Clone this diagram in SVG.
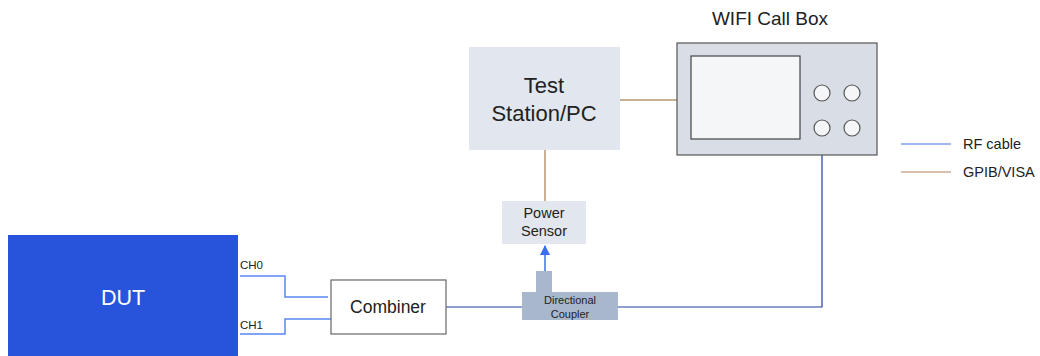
<svg xmlns="http://www.w3.org/2000/svg" width="1040" height="356" viewBox="0 0 1040 356">
<defs>
<style>
text{font-family:"Liberation Sans",Arial,sans-serif;fill:#222}
.rf{stroke:#1f3fa0;stroke-width:1.2;fill:none}
.ch{stroke:#5b85f0;stroke-width:1.5;fill:none}
.gp{stroke:#b99474;stroke-width:1.5;fill:none}
.lb{fill:#e1e6ef}
</style>
<marker id="ah" viewBox="0 0 10 10" refX="9" refY="5" markerWidth="7" markerHeight="7" orient="auto"><path d="M0,0 L10,5 L0,10 z" fill="#3a6ff0"/></marker>
</defs>
<rect width="1040" height="356" fill="#fff"/>
<g id="connectors">
<path class="ch" d="M240,276 H285 V297 H328"/>
<path class="ch" d="M240,334 H285 V319 H331"/>
<path class="rf" d="M446,307 H522"/>
<path class="rf" d="M618,307 H822 V136"/>
<path class="gp" d="M620,100 H677"/>
<path class="gp" d="M545,150 V201"/>
<path d="M545,271 V246" stroke="#3a6ff0" stroke-width="1.5" fill="none" marker-end="url(#ah)"/>
</g>
<g id="dut">
<rect x="8" y="235" width="230" height="125" fill="#2854dc"/>
<text x="123" y="305" font-size="21.5" text-anchor="middle" style="fill:#fff">DUT</text>
<text x="240" y="269" font-size="11.5">CH0</text>
<text x="240" y="329" font-size="11.5">CH1</text>
</g>
<g id="combiner">
<rect x="331" y="280" width="115" height="54" fill="#fff" stroke="#666" stroke-width="1.2"/>
<text x="388" y="313" font-size="17.5" text-anchor="middle">Combiner</text>
</g>
<g id="coupler">
<rect x="536" y="271" width="16" height="22" fill="#a9b7cc"/>
<rect x="522" y="292" width="96" height="28" fill="#a9b7cc"/>
<text x="570" y="304" font-size="11" text-anchor="middle">Directional</text>
<text x="570" y="318" font-size="11" text-anchor="middle">Coupler</text>
</g>
<g id="power-sensor">
<rect class="lb" x="502" y="201" width="84" height="43"/>
<text x="544" y="218" font-size="14.5" text-anchor="middle">Power</text>
<text x="544" y="236" font-size="14.5" text-anchor="middle">Sensor</text>
</g>
<g id="test-station">
<rect class="lb" x="469" y="47" width="151" height="103"/>
<text x="544" y="93" font-size="22" text-anchor="middle">Test</text>
<text x="544" y="121" font-size="22" text-anchor="middle">Station/PC</text>
</g>
<g id="call-box">
<text x="770" y="25" font-size="19" text-anchor="middle">WIFI Call Box</text>
<rect x="677" y="43" width="200" height="112" fill="#d9dde6" stroke="#555" stroke-width="1.2"/>
<rect x="691" y="56" width="109" height="83" fill="#f5f6f8" stroke="#444" stroke-width="1.2"/>
<g fill="#f5f6f8" stroke="#555" stroke-width="1.2">
<circle cx="822" cy="93" r="8"/>
<circle cx="852" cy="93" r="8"/>
<circle cx="822" cy="128" r="8"/>
<circle cx="852" cy="128" r="8"/>
</g>
</g>
<g id="legend">
<line x1="901" y1="144" x2="951" y2="144" stroke="#4a6fe0" stroke-width="1.2"/>
<text x="963" y="149" font-size="14.5">RF cable</text>
<line x1="901" y1="172" x2="951" y2="172" stroke="#b0825c" stroke-width="1.2"/>
<text x="963" y="177" font-size="14.5">GPIB/VISA</text>
</g>
</svg>
